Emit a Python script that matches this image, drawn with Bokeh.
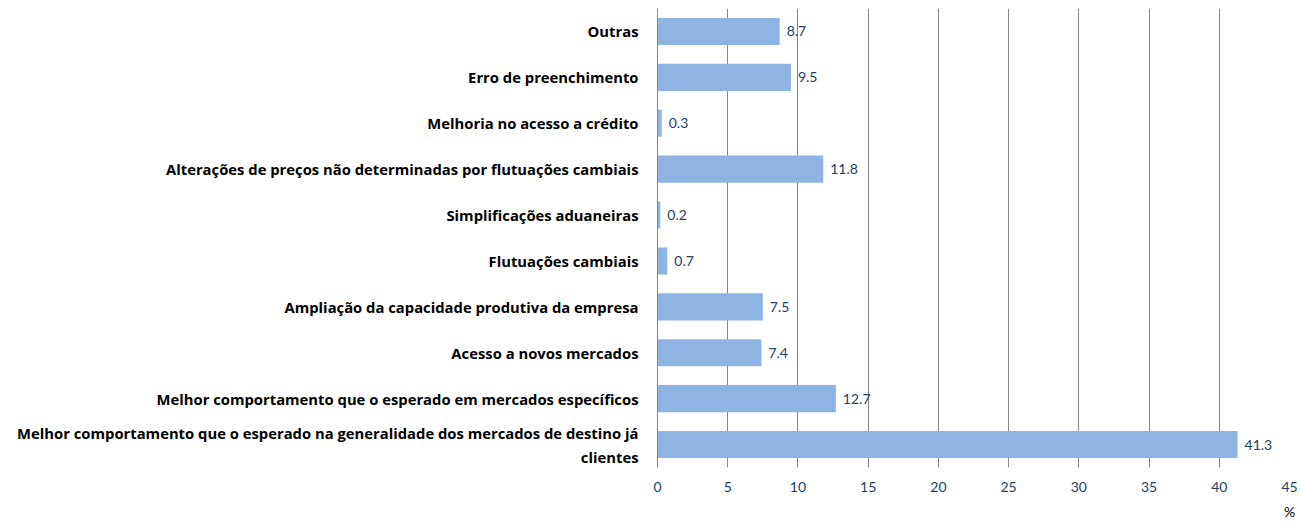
from bokeh.plotting import figure
from bokeh.models import FactorRange, Range1d, FixedTicker, ColumnDataSource
from bokeh.core.properties import value
from bokeh.embed import file_html
from bokeh.resources import INLINE

categories = [
    "Melhor comportamento que o esperado na generalidade dos mercados de destino já\nclientes",
    "Melhor comportamento que o esperado em mercados específicos",
    "Acesso a novos mercados",
    "Ampliação da capacidade produtiva da empresa",
    "Flutuações cambiais",
    "Simplificações aduaneiras",
    "Alterações de preços não determinadas por flutuações cambiais",
    "Melhoria no acesso a crédito",
    "Erro de preenchimento",
    "Outras",
]
values = [41.3, 12.7, 7.4, 7.5, 0.7, 0.2, 11.8, 0.3, 9.5, 8.7]
x_ticks = [0, 5, 10, 15, 20, 25, 30, 35, 40, 45]
unit_label = "%"

src = ColumnDataSource(dict(cat=categories, val=values, lab=[f"{v:.1f}" for v in values]))

p = figure(width=1301, height=523, y_range=FactorRange(factors=categories),
           x_range=Range1d(0, 45), output_backend="svg", toolbar_location=None,
           min_border_left=657, min_border_right=12, min_border_top=8, min_border_bottom=56)
p.outline_line_color = None
p.hbar(y="cat", right="val", height=0.59, source=src, color="#8EB4E3", line_color=None)
p.text(x="val", y="cat", text="lab", source=src, x_offset=7, text_baseline="middle",
       text_align="left", text_font=value("Lato"), text_font_size="14px", text_color="#243F60")

xa = p.xaxis[0]
xa.ticker = FixedTicker(ticks=x_ticks)
xa.axis_line_color = None
xa.major_tick_line_color = None
xa.minor_tick_line_color = None
xa.major_label_text_color = "#243F60"
xa.major_label_text_font = "Lato"
xa.major_label_text_font_size = "14px"
xa.major_label_standoff = 8
xa.axis_label = unit_label
xa.axis_label_text_font = "Lato"
xa.axis_label_text_font_style = "normal"
xa.axis_label_text_font_size = "14px"
xa.axis_label_text_color = "#000000"
xa.axis_label_standoff = 8
if hasattr(xa, "axis_label_align"):
    xa.axis_label_align = "end"

p.yaxis.axis_line_color = "#868686"
p.yaxis.major_tick_line_color = None
p.yaxis.minor_tick_line_color = None
p.yaxis.major_label_text_font = "Open Sans"
p.yaxis.major_label_text_font_style = "bold"
p.yaxis.major_label_text_font_size = "14.8px"
p.yaxis.major_label_text_color = "#000000"
p.yaxis.major_label_standoff = 13

p.xgrid.grid_line_color = "#868686"
p.xgrid.grid_line_width = 1
p.ygrid.grid_line_color = None

open("out.html", "w").write(file_html(p, INLINE))
